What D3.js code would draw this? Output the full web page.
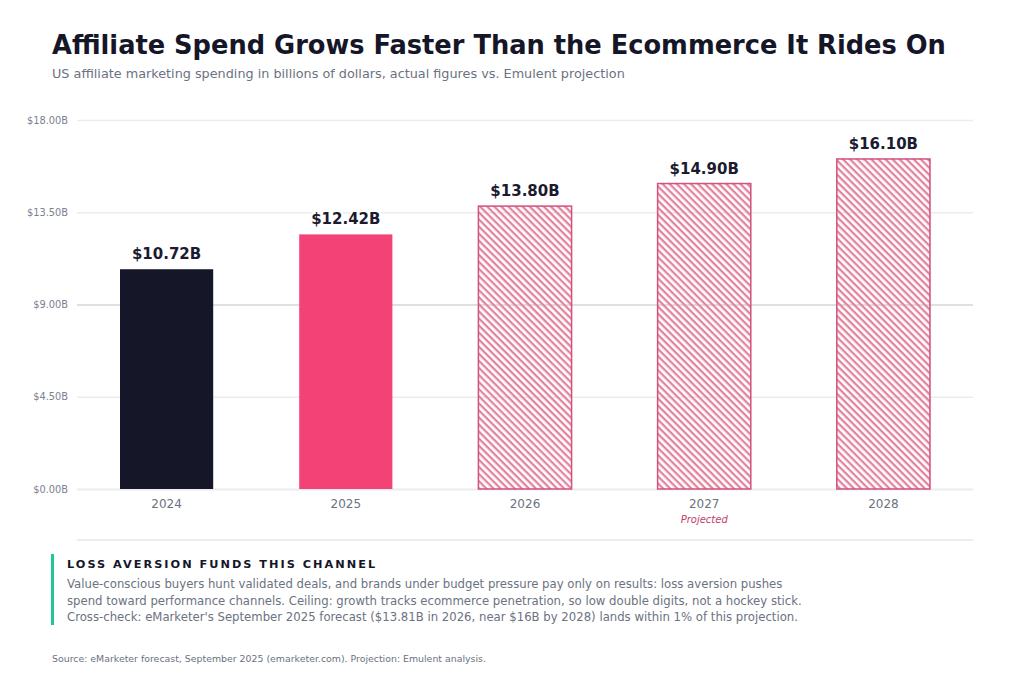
<!DOCTYPE html>
<html>
<head>
<meta charset="utf-8">
<script src="https://cdn.jsdelivr.net/npm/d3@7"></script>
<style>
  body { margin: 0; background: #fff; font-family: "DejaVu Sans", sans-serif; }
  svg { display: block; }
</style>
</head>
<body>
<div id="chart"></div>
<script>
// data
const years = ["2024", "2025", "2026", "2027", "2028"];
const spend = [10.72, 12.42, 13.80, 14.90, 16.10];
const kind = ["actual", "actual-latest", "projected", "projected", "projected"];
const yTicks = [0, 4.5, 9, 13.5, 18];
const noteLines = [
  "Value-conscious buyers hunt validated deals, and brands under budget pressure pay only on results: loss aversion pushes",
  "spend toward performance channels. Ceiling: growth tracks ecommerce penetration, so low double digits, not a hockey stick.",
  "Cross-check: eMarketer's September 2025 forecast ($13.81B in 2026, near $16B by 2028) lands within 1% of this projection."
];

const svgWidth = 1024;
const svgHeight = 683;
const margin = { top: 120, right: 51, bottom: 194, left: 77 };
const width = svgWidth - margin.left - margin.right;
const height = svgHeight - margin.top - margin.bottom;

const svg = d3.select("#chart")
  .append("svg")
  .attr("width", svgWidth)
  .attr("height", svgHeight);

// hatch for projected bars
const defs = svg.append("defs");
defs.append("pattern")
  .attr("id", "hatch")
  .attr("patternUnits", "userSpaceOnUse")
  .attr("width", 5)
  .attr("height", 5)
  .attr("patternTransform", "rotate(45)")
  .append("rect")
  .attr("x", 0).attr("y", 0)
  .attr("width", 5).attr("height", 2.3)
  .attr("fill", "#e3849f");

// title
svg.append("text")
  .attr("x", 52).attr("y", 54)
  .attr("font-size", 25.7)
  .attr("font-weight", "bold")
  .attr("fill", "#161629")
  .text("Affiliate Spend Grows Faster Than the Ecommerce It Rides On");

svg.append("text")
  .attr("x", 52).attr("y", 78)
  .attr("font-size", 12.8)
  .attr("fill", "#6b7280")
  .text("US affiliate marketing spending in billions of dollars, actual figures vs. Emulent projection");

const chartGroup = svg.append("g")
  .attr("transform", `translate(${margin.left}, ${margin.top})`);

const xScale = d3.scaleBand()
  .domain(years)
  .range([0, width])
  .paddingInner(0.48)
  .paddingOuter(0.24);

const yScale = d3.scaleLinear()
  .domain([0, 18])
  .range([height, 0]);

// grid + y labels
const leftAxis = d3.axisLeft(yScale)
  .tickValues(yTicks)
  .tickSize(-width)
  .tickPadding(9)
  .tickFormat(d => "$" + d3.format(".2f")(d) + "B");

const yAxis = chartGroup.append("g").call(leftAxis);
yAxis.select(".domain").remove();
yAxis.selectAll(".tick line")
  .attr("stroke", d => d === 9 ? "#d4d6db" : "#ececef")
  .attr("stroke-width", d => d === 0 ? 2 : 1.3);
yAxis.selectAll(".tick text")
  .attr("fill", "#7b8190")
  .attr("font-size", 9.8)
  .attr("font-family", "DejaVu Sans");

// bars
const rows = years.map((y, i) => ({ year: y, value: spend[i], kind: kind[i] }));

chartGroup.selectAll("rect.bar")
  .data(rows)
  .enter()
  .append("rect")
  .attr("class", "bar")
  .attr("x", d => xScale(d.year))
  .attr("y", d => yScale(d.value))
  .attr("width", xScale.bandwidth())
  .attr("height", d => height - yScale(d.value))
  .attr("fill", d => d.kind === "actual" ? "#161629" : d.kind === "actual-latest" ? "#f24276" : "url(#hatch)")
  .attr("stroke", d => d.kind === "projected" ? "#d2517f" : "none")
  .attr("stroke-width", 1.5);

// value labels
chartGroup.selectAll("text.val")
  .data(rows)
  .enter()
  .append("text")
  .attr("class", "val")
  .attr("x", d => xScale(d.year) + xScale.bandwidth() / 2)
  .attr("y", d => yScale(d.value) - 10)
  .attr("text-anchor", "middle")
  .attr("font-size", 15)
  .attr("font-weight", "bold")
  .attr("fill", "#1b1b30")
  .attr("stroke", "#fff")
  .attr("stroke-width", 5)
  .attr("paint-order", "stroke")
  .text(d => "$" + d.value.toFixed(2) + "B");

// x labels
const bottomAxis = d3.axisBottom(xScale).tickSize(0).tickPadding(10);
const xAxis = chartGroup.append("g")
  .attr("transform", `translate(0, ${height})`)
  .call(bottomAxis);
xAxis.select(".domain").remove();
xAxis.selectAll(".tick text")
  .attr("fill", "#6b7280")
  .attr("font-size", 12)
  .attr("font-family", "DejaVu Sans");

chartGroup.append("text")
  .attr("x", xScale("2027") + xScale.bandwidth() / 2)
  .attr("y", height + 34)
  .attr("text-anchor", "middle")
  .attr("font-size", 10)
  .attr("font-style", "italic")
  .attr("fill", "#c2406b")
  .text("Projected");

// divider
svg.append("line")
  .attr("x1", 77).attr("x2", 973)
  .attr("y1", 540).attr("y2", 540)
  .attr("stroke", "#e5e7eb")
  .attr("stroke-width", 1.5);

// callout
svg.append("rect")
  .attr("x", 51).attr("y", 554)
  .attr("width", 3).attr("height", 71)
  .attr("fill", "#1fc796");

svg.append("text")
  .attr("x", 67).attr("y", 568)
  .attr("font-size", 11.3)
  .attr("font-weight", "bold")
  .attr("letter-spacing", 2.0)
  .attr("fill", "#161629")
  .text("LOSS AVERSION FUNDS THIS CHANNEL");

svg.selectAll("text.note")
  .data(noteLines)
  .enter()
  .append("text")
  .attr("class", "note")
  .attr("x", 67)
  .attr("y", (d, i) => 588 + i * 16.5)
  .attr("font-size", 11.7)
  .attr("fill", "#6b7280")
  .text(d => d);

svg.append("text")
  .attr("x", 52).attr("y", 662)
  .attr("font-size", 9.4)
  .attr("fill", "#6b7280")
  .text("Source: eMarketer forecast, September 2025 (emarketer.com). Projection: Emulent analysis.");
</script>
</body>
</html>
